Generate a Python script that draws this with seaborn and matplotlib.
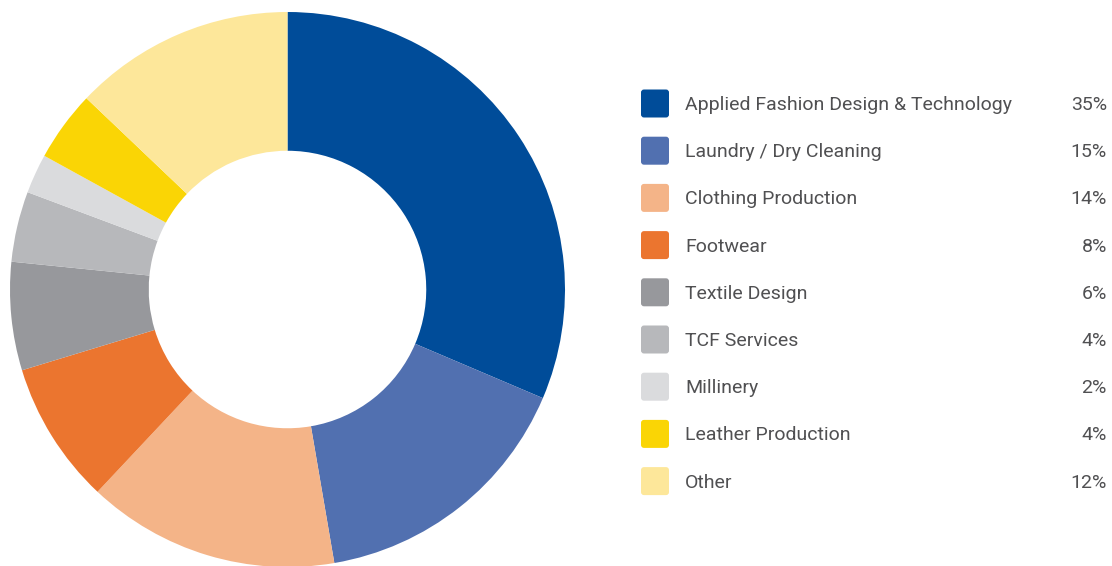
import matplotlib
matplotlib.use('Agg')
import matplotlib.pyplot as plt
from matplotlib.patches import FancyBboxPatch
import seaborn as sns

categories = [
    "Applied Fashion Design & Technology",
    "Laundry / Dry Cleaning",
    "Clothing Production",
    "Footwear",
    "Textile Design",
    "TCF Services",
    "Millinery",
    "Leather Production",
    "Other",
]
shares = [31.4, 15.9, 14.7, 8.3, 6.3, 4.1, 2.3, 4.1, 12.9]
labels_pct = ["35%", "15%", "14%", "8%", "6%", "4%", "2%", "4%", "12%"]
colors = ["#004C99", "#5170B0", "#F4B488", "#EB752F", "#97989C",
          "#B7B8BB", "#DADBDD", "#FAD505", "#FDE79A"]

sns.set_theme(style="white")
plt.rcParams['font.family'] = ['Roboto', 'DejaVu Sans']

W, H = 1112, 566
fig = plt.figure(figsize=(W / 100, H / 100), dpi=100)

# donut
cx, cy, r = 287.5, 289.5, 277.5
ax = fig.add_axes([(cx - r) / W, (H - cy - r) / H, 2 * r / W, 2 * r / H])
ax.pie(shares, colors=colors, startangle=90, counterclock=False, radius=1,
       wedgeprops=dict(width=0.5, linewidth=0))
ax.set_xlim(-1, 1)
ax.set_ylim(-1, 1)
ax.set_aspect('equal')
ax.axis('off')

# legend drawn in pixel space
leg = fig.add_axes([0, 0, 1, 1])
leg.set_xlim(0, W)
leg.set_ylim(H, 0)
leg.axis('off')
leg.patch.set_alpha(0)

y0, step = 103.5, 47.2
for i, (name, pct, col) in enumerate(zip(categories, labels_pct, colors)):
    y = y0 + i * step
    leg.add_patch(FancyBboxPatch((641, y - 14), 28, 28,
                                 boxstyle="round,pad=0,rounding_size=3",
                                 facecolor=col, edgecolor='none'))
    leg.text(685, y + 1.5, name, fontsize=14, color="#505052",
             va='center', ha='left')
    leg.text(1107, y + 1.5, pct, fontsize=14, color="#505052",
             va='center', ha='right')

fig.savefig("out.png", dpi=100, facecolor='white')
